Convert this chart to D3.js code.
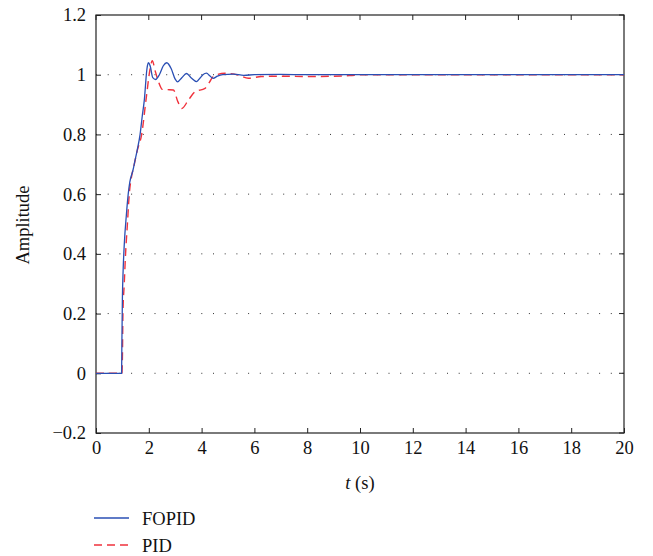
<!DOCTYPE html>
<html><head><meta charset="utf-8">
<script src="https://cdn.jsdelivr.net/npm/d3@7"></script>
<style>
body{margin:0;background:#fff;}
svg text{font-family:"Liberation Serif","DejaVu Serif",serif;fill:#111;}
</style></head>
<body><svg id="c" width="653" height="556"></svg>
<script>
const xTicks = [0,2,4,6,8,10,12,14,16,18,20];
const yTicks = [-0.2,0,0.2,0.4,0.6,0.8,1,1.2];
const yTickLabels = ["\u22120.2","0","0.2","0.4","0.6","0.8","1","1.2"];
const seriesNames = ["FOPID","PID"];
const fopidT = [0,0.97,0.98,1.0,1.03,1.07,1.15,1.22,1.28,1.4,1.48,1.56,1.67,1.75,1.83,1.93,1.98,2.05,2.15,2.26,2.4,2.55,2.68,2.85,3.0,3.09,3.25,3.43,3.6,3.81,3.95,4.05,4.19,4.3,4.44,4.6,4.8,5.2,5.6,6.0,7.0,8.0,20];
const fopidY = [0,0,0.1,0.25,0.35,0.43,0.53,0.6,0.64,0.68,0.714,0.747,0.80,0.86,0.915,1.02,1.04,1.03,0.99,0.984,1.0,1.03,1.04,1.02,0.985,0.976,0.99,1.004,0.99,0.977,0.99,1.0,1.005,0.997,0.988,0.995,1.0,1.002,0.998,1.0,1.001,1.0,1.0];
const pidT = [0,0.98,1.0,1.02,1.07,1.12,1.19,1.26,1.35,1.45,1.56,1.73,1.9,2.05,2.13,2.25,2.39,2.51,2.7,2.93,3.1,3.25,3.5,3.75,4.13,4.3,4.44,4.89,5.39,5.77,6.27,7.0,8.0,9.0,9.6,10.2,20];
const pidY = [0,0,0.05,0.2,0.3,0.4,0.5,0.6,0.66,0.7,0.745,0.80,0.92,1.02,1.047,1.01,0.971,0.951,0.95,0.949,0.91,0.887,0.915,0.943,0.954,0.975,0.994,1.005,0.999,0.988,0.994,0.995,0.994,0.995,0.997,1.0,1.0];

const svg = d3.select("#c");
const L=96, R=624, T=15, B=433;
const FS = "18.5px";
const x = d3.scaleLinear().domain([0,20]).range([L,R]);
const y = d3.scaleLinear().domain([-0.2,1.2]).range([B,T]);

// grid
svg.append("g").selectAll("line").data(yTicks.filter(v=>v>-0.15&&v<1.15)).join("line")
  .attr("x1",L).attr("x2",R).attr("y1",d=>y(d)).attr("y2",d=>y(d))
  .attr("stroke","#333").attr("stroke-width",1).attr("stroke-dasharray","1,10.7");

// frame
svg.append("rect").attr("x",L).attr("y",T).attr("width",R-L).attr("height",B-T)
  .attr("fill","none").attr("stroke","#222").attr("stroke-width",1.2);

// axes
const xa = svg.append("g").attr("transform",`translate(0,${B})`)
  .call(d3.axisBottom(x).tickValues(xTicks).tickSizeInner(-5).tickSizeOuter(0).tickPadding(8));
const ya = svg.append("g").attr("transform",`translate(${L},0)`)
  .call(d3.axisLeft(y).tickValues(yTicks).tickFormat((d,i)=>yTickLabels[i]).tickSizeInner(-5).tickSizeOuter(0).tickPadding(10));
[xa,ya].forEach(a=>{a.select(".domain").remove();
  a.selectAll(".tick line").attr("stroke","#222");
  a.selectAll("text").style("font-size",FS).style("font-family","Liberation Serif").attr("fill","#111");});
// top/right ticks
svg.append("g").selectAll("line").data(xTicks).join("line")
  .attr("x1",d=>x(d)).attr("x2",d=>x(d)).attr("y1",T).attr("y2",T+5).attr("stroke","#222");
svg.append("g").selectAll("line").data(yTicks).join("line")
  .attr("x1",R).attr("x2",R-5).attr("y1",d=>y(d)).attr("y2",d=>y(d)).attr("stroke","#222");

const line = d3.line().x(d=>x(d[0])).y(d=>y(d[1])).curve(d3.curveMonotoneX);
const pidData = pidT.map((t,i)=>[t,pidY[i]]);
const fopData = fopidT.map((t,i)=>[t,fopidY[i]]);
svg.append("clipPath").attr("id","cp").append("rect").attr("x",L).attr("y",T).attr("width",R-L).attr("height",B-T);
svg.append("path").datum(pidData).attr("d",line).attr("fill","none")
  .attr("stroke","#f0323c").attr("stroke-width",1.4).attr("stroke-dasharray","8,5").attr("clip-path","url(#cp)");
svg.append("path").datum(fopData).attr("d",line).attr("fill","none")
  .attr("stroke","#2a4fb4").attr("stroke-width",1.3).attr("clip-path","url(#cp)");

// labels
svg.append("text").attr("x",360).attr("y",489).attr("text-anchor","middle").style("font-size",FS)
  .html('<tspan font-style="italic">t</tspan> (s)');
svg.append("text").attr("transform","translate(29,225) rotate(-90)").attr("text-anchor","middle")
  .style("font-size",FS).text("Amplitude");

// legend
const lg = svg.append("g");
const colors = ["#2a4fb4","#f0323c"], dashes = [null,"8,5"];
seriesNames.forEach((n,i)=>{
  const yy = 518 + i*27;
  lg.append("line").attr("x1",94).attr("x2",129).attr("y1",yy).attr("y2",yy)
    .attr("stroke",colors[i]).attr("stroke-width",1.4).attr("stroke-dasharray",dashes[i]);
  lg.append("text").attr("x",142).attr("y",yy+6.5).style("font-size",FS).text(n);
});
</script></body></html>
